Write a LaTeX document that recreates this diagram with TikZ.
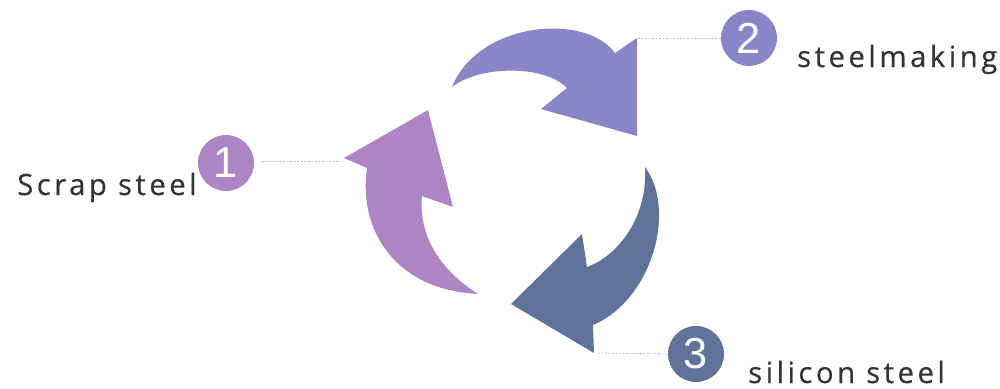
\documentclass[tikz,border=0pt]{standalone}
\usepackage{fontspec}
\setmainfont{Liberation Sans}
\newfontfamily\labelfont[LetterSpace=12,FakeBold=0.5]{Open Sans}
\definecolor{cA}{HTML}{AD85C4}
\definecolor{cB}{HTML}{8886C6}
\definecolor{cC}{HTML}{5F7399}
\definecolor{txt}{HTML}{363236}
\definecolor{dotc}{HTML}{B5B5B5}
\begin{document}
\begin{tikzpicture}[x=0.03cm,y=-0.03cm,
  numcirc/.style={circle,minimum size=56*0.03cm,inner sep=0pt,text=white,font=\fontsize{37}{37}\selectfont},
  lbl/.style={anchor=base west,inner sep=0pt,text=txt,font=\labelfont\fontsize{25}{25}\selectfont},
  leader/.style={draw=dotc,line width=0.7pt,dash pattern=on 1.5pt off 1.5pt}]
\useasboundingbox (0,0) rectangle (1000,389);
% arrow 1 (left, purple)
\fill[cA] (344,158) -- (428,110) -- (453,207) -- (422,196)
  .. controls (418,235) and (440,270) .. (478,294)
  .. controls (395,290) and (358,230) .. (367,168) -- cycle;
% arrow 2 (top)
\fill[cB] (452,87) .. controls (478,22) and (585,12) .. (615,53)
  -- (637,38) -- (637,136) -- (541,109) -- (567,88)
  .. controls (545,65) and (480,65) .. (452,87) -- cycle;
% arrow 3 (right, blue)
\fill[cC] (645,167) .. controls (677,210) and (652,300) .. (593,325)
  -- (594,353) -- (511,304) -- (582,234) -- (587,267)
  .. controls (620,255) and (648,215) .. (645,167) -- cycle;
% tips
\coordinate (t1) at (340,161);
\coordinate (t2) at (638,38);
\coordinate (t3) at (598,353);
% circles
\node[numcirc,fill=cA] (n1) at (226,163) {1};
\node[numcirc,fill=cB] (n2) at (749,38) {2};
\node[numcirc,fill=cC] (n3) at (696,354) {3};
\draw[leader] (n1.east) ++(8,-2) coordinate (l1) -- (t1);
\draw[leader] (t2) -- (n2.west);
\draw[leader] (t3) -- (n3.west);
% labels
\node[lbl] (s1) at (17,195) {Scrap steel};
\node[lbl] (s2) at (797,67) {steelmaking};
\node[lbl] (s3) at (748,383) {silicon steel};
\end{tikzpicture}
\end{document}
